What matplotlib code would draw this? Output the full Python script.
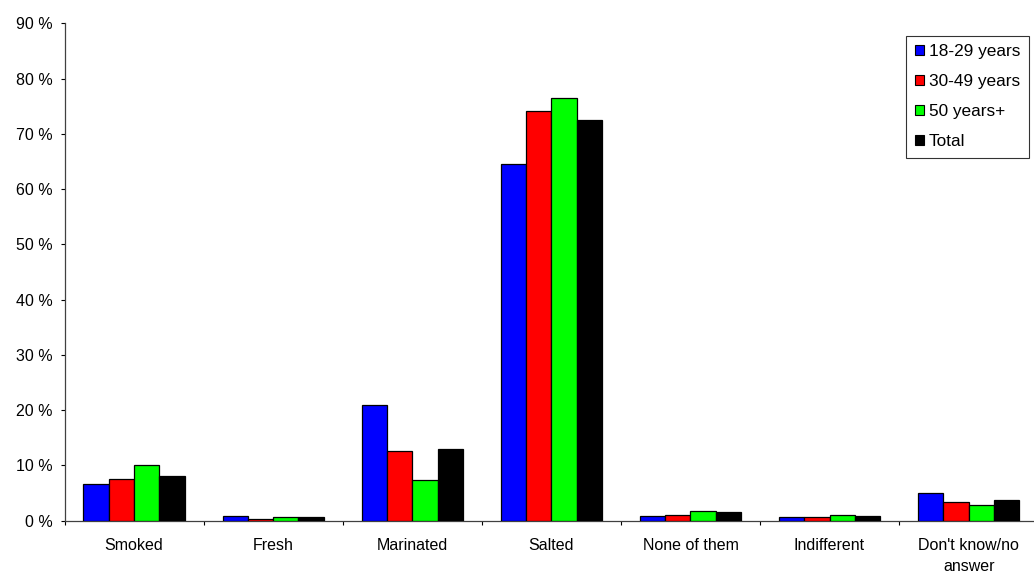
import matplotlib
matplotlib.use("Agg")
import matplotlib.pyplot as plt
import numpy as np
from matplotlib.patches import Patch

categories = ["Smoked", "Fresh", "Marinated", "Salted", "None of them",
              "Indifferent", "Don't know/no\nanswer"]
series_names = ["18-29 years", "30-49 years", "50 years+", "Total"]
v_18_29 = [6.7, 0.8, 21.0, 64.6, 0.9, 0.6, 5.1]
v_30_49 = [7.5, 0.3, 12.7, 74.1, 1.1, 0.6, 3.4]
v_50p = [10.0, 0.6, 7.3, 76.4, 1.7, 1.1, 2.8]
v_total = [8.1, 0.6, 13.0, 72.5, 1.5, 0.9, 3.8]
yticks = [0, 10, 20, 30, 40, 50, 60, 70, 80, 90]
colors = ["#0000FF", "#FF0000", "#00FF00", "#000000"]

plt.rcParams['font.family'] = ['Liberation Sans', 'DejaVu Sans']
fs = 11.5
fs_leg = 12.4

fig = plt.figure(figsize=(10.34, 5.75), dpi=100)
left = 64.5 / 1034
bottom = 1 - 520.7 / 575
top = 1 - 23.3 / 575
width = (7 * 139.1) / 1034
ax = fig.add_axes([left, bottom, width, top - bottom])

x = np.arange(len(categories))
bw = 0.182
all_vals = [v_18_29, v_30_49, v_50p, v_total]
for i, (vals, c) in enumerate(zip(all_vals, colors)):
    ax.bar(x + (i - 1.5) * bw, vals, bw, color=c, edgecolor="black",
           linewidth=0.9, label=series_names[i], zorder=3)

ax.set_xlim(-0.5, len(categories) - 0.5)
ax.set_ylim(0, 90)
ax.set_yticks(yticks)
ax.set_yticklabels([f"{t} %" for t in yticks], fontsize=fs)
ax.tick_params(axis='y', direction='out', length=3.1, width=0.8, pad=5.5, colors='black')

ax.set_xticks(x)
ax.set_xticklabels(categories, fontsize=fs, linespacing=1.5)
ax.tick_params(axis='x', which='major', length=0, pad=12.5)
ax.set_xticks(np.arange(-0.5, len(categories) - 0.4, 1.0), minor=True)
ax.tick_params(axis='x', which='minor', direction='out', length=3.1, width=0.8)

for s in ['top', 'right']:
    ax.spines[s].set_visible(False)
for s in ['left', 'bottom']:
    ax.spines[s].set_linewidth(0.9)
    ax.spines[s].set_color('#404040')

handles = [Patch(facecolor=c, edgecolor='black', linewidth=0.8) for c in colors]
leg = fig.legend(handles, series_names, loc='upper left',
                 bbox_to_anchor=(906 / 1034, 1 - 35.7 / 575),
                 fontsize=fs_leg, frameon=True, fancybox=False,
                 edgecolor='black', handlelength=0.55, handleheight=0.55,
                 handletextpad=0.28, labelspacing=0.87, borderpad=0.5,
                 borderaxespad=0)
leg.get_frame().set_linewidth(0.8)

fig.savefig("out.png", dpi=100)
